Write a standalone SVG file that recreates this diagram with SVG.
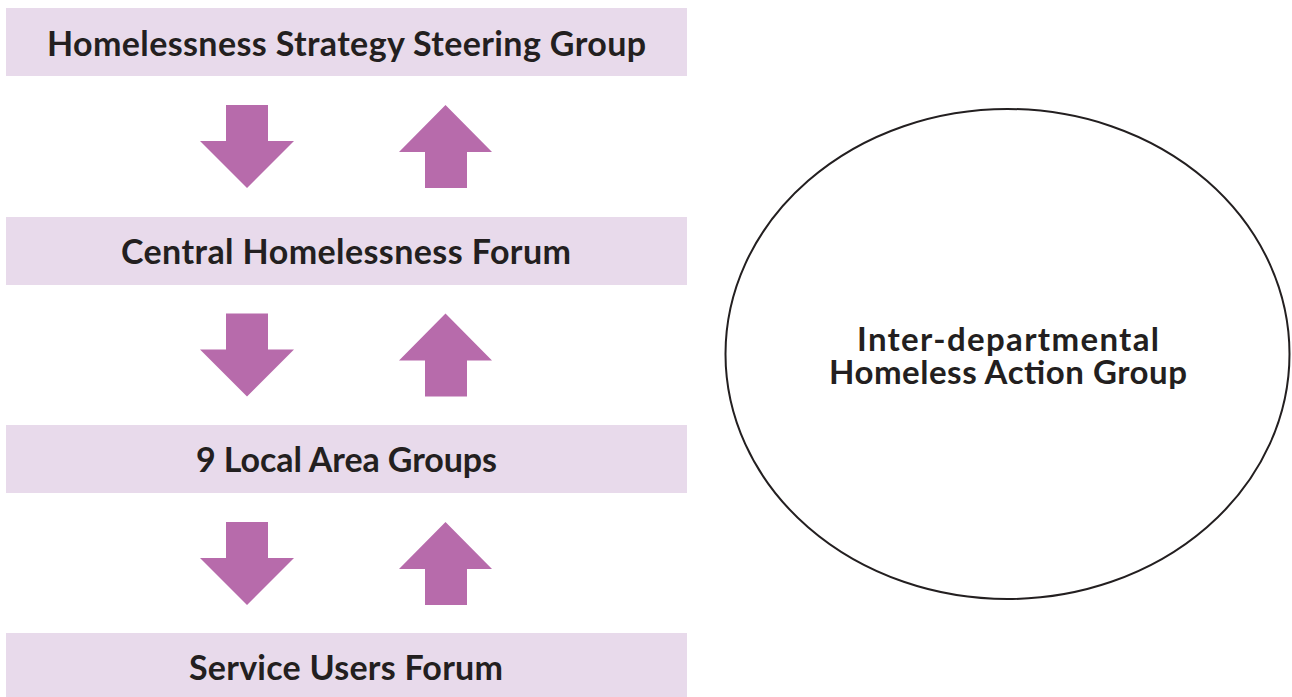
<svg xmlns="http://www.w3.org/2000/svg" width="1292" height="697" viewBox="0 0 1292 697">
<style>
.box{fill:#E8DAEB}
.lbl{font-family:Lato,"Open Sans","Liberation Sans",sans-serif;font-weight:700;font-size:34px;fill:#231F20;text-anchor:middle}
.el{font-size:33px}
.arr{fill:#B76BAB}
</style>
<defs>
<path id="down" d="M226,105 H268 V141 H294 L247,188 L200,141 H226 Z"/>
<path id="up" d="M445.5,105 L492,152 H467 V188 H425 V152 H399 Z"/>
</defs>
<rect width="1292" height="697" fill="#fff"/>
<g id="connectors">
<use href="#down" class="arr"/>
<use href="#up" class="arr"/>
<use href="#down" class="arr" y="208.5"/>
<use href="#up" class="arr" y="208.5"/>
<use href="#down" class="arr" y="417"/>
<use href="#up" class="arr" y="417"/>
</g>
<g id="n1"><rect class="box" x="6" y="8" width="681" height="68"/><text class="lbl" x="346.5" y="56" textLength="599">Homelessness Strategy Steering Group</text></g>
<g id="n2"><rect class="box" x="6" y="217" width="681" height="68"/><text class="lbl" x="346" y="264" textLength="450">Central Homelessness Forum</text></g>
<g id="n3"><rect class="box" x="6" y="425" width="681" height="68"/><text class="lbl" x="346.5" y="472" textLength="301">9 Local Area Groups</text></g>
<g id="n4"><rect class="box" x="6" y="633" width="681" height="64"/><text class="lbl" x="346" y="680" textLength="314">Service Users Forum</text></g>
<g id="n5"><ellipse cx="1007.5" cy="354" rx="282" ry="245" fill="#fff" stroke="#231F20" stroke-width="2"/><text class="lbl el" x="1008" y="351" textLength="302">Inter-departmental</text><text class="lbl el" x="1008" y="384" textLength="358">Homeless Action Group</text></g>
</svg>
